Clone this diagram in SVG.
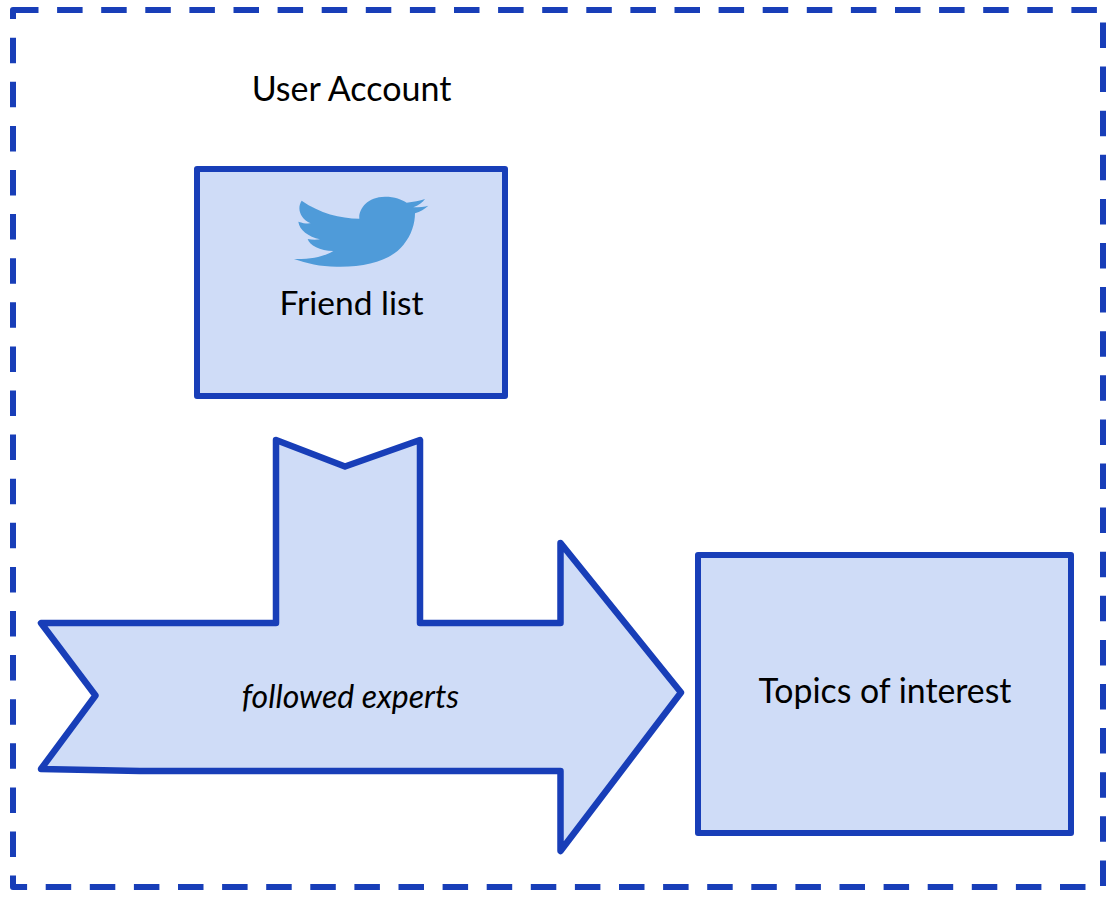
<svg xmlns="http://www.w3.org/2000/svg" width="1116" height="902" viewBox="0 0 1116 902">
<style>
.s{fill:#cfdcf7;stroke:#183eb8;stroke-width:6;stroke-linejoin:round}
.a{stroke-width:6.500}
.t{font-family:Lato,"Open Sans","Liberation Sans",sans-serif;fill:#000;text-anchor:middle}
</style>
<rect width="1116" height="902" fill="#fff"/>
<g id="user-account">
<path d="M13 10H1103V887H13Z" fill="none" stroke="#183eb8" stroke-width="6" stroke-dasharray="25.5 18.6" stroke-linejoin="round"/>
<text class="t" x="351.5" y="101" font-size="34">User Account</text>
</g>
<g id="friend-list">
<rect class="s" x="197" y="169" width="308" height="227"/>
<path transform="translate(270 180) scale(.33333)" fill="#4f9bd9" d="M95 62C150 100 210 115 268 116C265 90 290 50 345 50C375 50 395 58 410 68C430 66 450 62 465 57C458 68 445 76 430 82C448 82 465 80 475 77C465 87 450 95 435 100C435 130 425 165 400 195C365 240 290 262 200 260C150 260 110 250 72 237C130 238 165 228 190 213C150 213 118 195 113 177C125 180 140 180 150 178C115 170 88 150 85 125C100 130 110 131 122 130C90 115 80 85 95 62Z"/>
<text class="t" x="351.5" y="315" font-size="33.5">Friend list</text>
</g>
<g id="followed-experts">
<path class="s a" d="M41 623H276V440L345 466.500L420 440V623H560.500V543L681 692.500L560.500 851V771H140L41 769L95.500 695.500Z"/>
<text class="t" x="350.5" y="707.5" font-size="32" font-style="italic">followed experts</text>
</g>
<g id="topics-of-interest">
<rect class="s" x="698" y="555" width="373" height="278"/>
<text class="t" x="885" y="703" font-size="33.8">Topics of interest</text>
</g>
<g id="connectors"/>
</svg>
